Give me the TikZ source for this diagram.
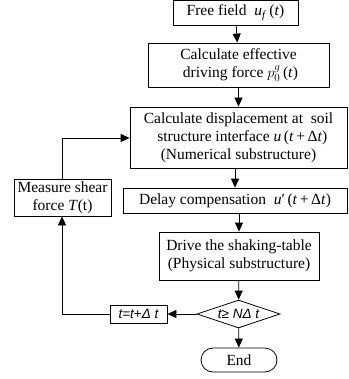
\documentclass[tikz,border=0pt]{standalone}
\usepackage[no-math]{fontspec}
\setmainfont{Liberation Serif}
\newfontfamily\arialit[ItalicFont={Liberation Sans Italic}]{Liberation Sans}
\usetikzlibrary{arrows.meta,shapes.geometric}
% italic variables set in the text font
\newcommand{\vv}[1]{\textit{#1}}
\begin{document}
\begin{tikzpicture}[x=1pt,y=-1pt,
  font=\fontsize{15.5}{18}\selectfont,
  box/.style={draw,line width=0.8pt,inner sep=0pt,align=center},
  flow/.style={line width=0.8pt,-{Triangle[length=9pt,width=8pt]}},
  line/.style={line width=0.8pt}]
\useasboundingbox (0,0) rectangle (348,379);

% main column
\node[box,minimum width=125,minimum height=25] (free) at (235.5,13)
  {Free field \ \vv{u}\textsubscript{\vv{f}}\,(\vv{t})};
\node[box,minimum width=181,minimum height=44] (force) at (238.5,65)
  {Calculate effective\\ \ driving force $p_0^g$\,(\vv{t})};
\node[box,minimum width=217,minimum height=61] (disp) at (238.5,137.5)
  {Calculate displacement at \ soil\\ \ \ structure interface \vv{u}\,(\vv{t}\,+\,Δ\vv{t})\\(Numerical substructure)};
\node[box,minimum width=224,minimum height=25] (delay) at (235,200.5)
  {Delay compensation \ \vv{u}′\,(\vv{t}\,+\,Δ\vv{t})};
\node[box,minimum width=160,minimum height=48] (drive) at (239,256)
  {Drive the shaking-table\\(Physical substructure)};
\node[draw,line width=0.8pt,diamond,aspect=3,inner sep=0pt,
      minimum width=83,minimum height=28,font=\arialit\fontsize{13.5}{15}\selectfont] (check) at (238.5,314)
  {\itshape t≥ NΔ t};
\node[draw,line width=0.8pt,rounded corners=12pt,minimum width=76,minimum height=24,inner sep=0pt] (end) at (239,360) {End};

% feedback branch
\node[box,minimum width=57,minimum height=18,font=\arialit\fontsize{13.5}{15}\selectfont] (incr) at (138.5,314)
  {\itshape t=t\upshape{+}\itshape Δ t};
\node[box,minimum width=97,minimum height=37] (shear) at (62.5,197.5)
  {Measure shear\\force \textit{T}(t)};
\coordinate (c1) at (62,314);
\coordinate (c2) at (62,138);

\draw[flow] (free) -- (force);
\draw[flow] (force) -- (disp);
\draw[flow] (disp.south -| delay.north) -- (delay);
\draw[flow] (delay.south -| drive.north) -- (drive);
\draw[flow] (drive) -- (check);
\draw[flow] (check) -- (end);
\draw[flow] (check) -- (incr);
\draw[flow] (incr.west) -- (c1) -- (shear.south -| c1);
\draw[flow] (shear.north -| c2) -- (c2) -- (disp.west |- c2);
\end{tikzpicture}
\end{document}
